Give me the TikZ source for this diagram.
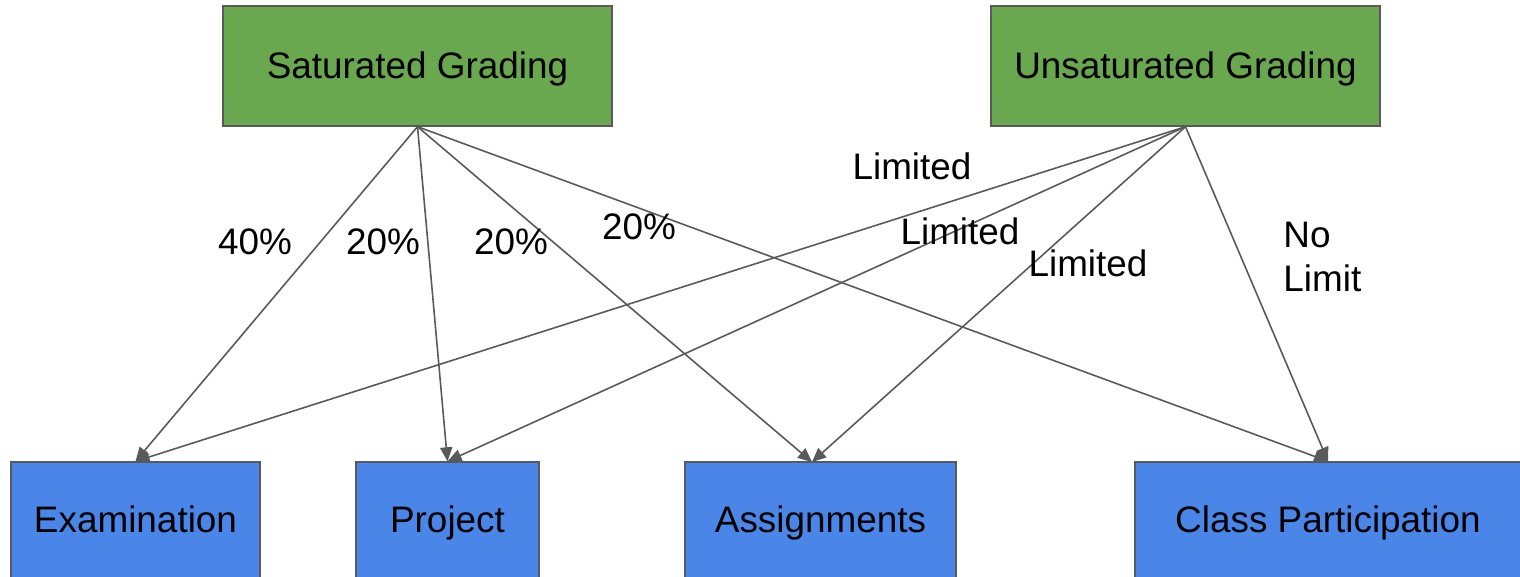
\documentclass[tikz,border=0pt]{standalone}
\usepackage{fontspec}
\setmainfont{Liberation Sans}
\usepackage{xcolor}
\definecolor{gradegreen}{HTML}{6AA84F}
\definecolor{partblue}{HTML}{4A86E8}
\definecolor{edgegray}{HTML}{595959}
\usetikzlibrary{arrows.meta,positioning,calc}

\begin{document}
\begin{tikzpicture}[x=0.02cm,y=-0.02cm,
    gradebox/.style={draw=edgegray,line width=0.8pt,fill=gradegreen,minimum width=7.78cm,minimum height=2.4cm,
      font=\fontsize{21}{25}\selectfont,text height=1.6em,text depth=0.2em},
    partbox/.style={draw=edgegray,line width=0.8pt,fill=partblue,minimum height=2.4cm,
      font=\fontsize{21}{25}\selectfont,text height=1.4em,text depth=0.2em},
    link/.style={draw=edgegray,line width=0.9pt,-{Triangle[length=8pt,width=7pt]}},
    lbl/.style={font=\fontsize{21}{25}\selectfont,inner sep=0pt}]
  \useasboundingbox (0,0) rectangle (1520,576);
  % grading schemes
  \node[gradebox] (sat) at (417.5,66) {Saturated Grading};
  \node[gradebox] (unsat) at (1185.5,66) {Unsaturated Grading};
  % components
  \node[partbox,minimum width=4.98cm] (exam) at (135.5,522) {Examination};
  \node[partbox,minimum width=3.66cm] (proj) at (447.5,522) {Project};
  \node[partbox,minimum width=5.42cm] (assign) at (820.5,522) {Assignments};
  \node[partbox,minimum width=7.72cm] (part) at (1328,522) {Class Participation};
  \coordinate (assigntop) at (812,462);
  % arrows
  \foreach \tgt in {exam.north,proj.north,assigntop,part.north}{
    \draw[link] (sat.south) -- (\tgt);
    \draw[link] (unsat.south) -- (\tgt);
  }
  % weights
  \foreach \x/\y/\txt in {255/242/40\%, 383/242/20\%, 511/242/20\%, 639/227/20\%,
    912/166/Limited, 960/231/Limited, 1088/263/Limited}{
    \node[lbl] at (\x,\y) {\txt};
  }
  \node[lbl,align=left,anchor=west] (nolimit) at (1283,257) {No\\Limit};
\end{tikzpicture}
\end{document}
